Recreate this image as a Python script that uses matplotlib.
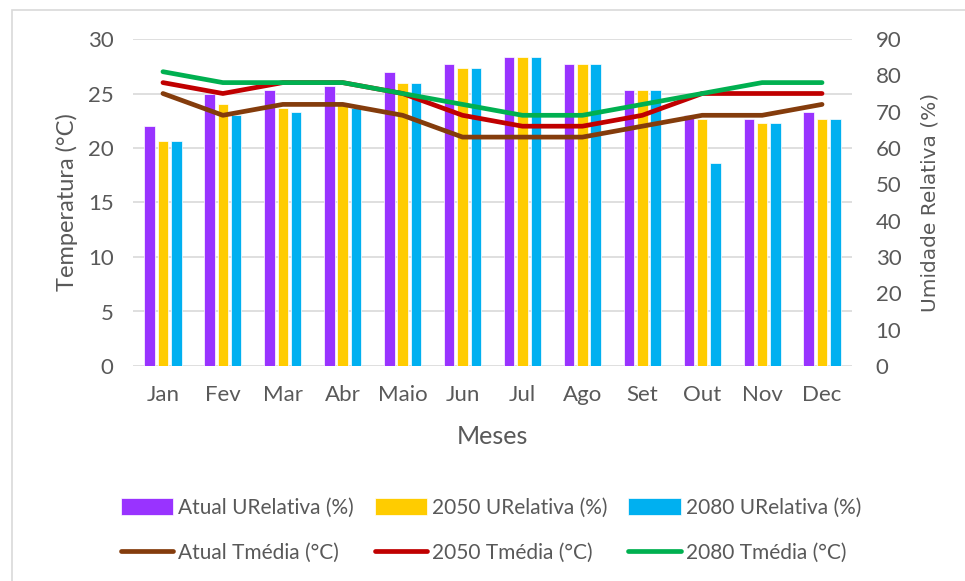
import matplotlib
matplotlib.use("Agg")
import matplotlib.pyplot as plt
import numpy as np
from matplotlib.patches import Rectangle

plt.rcParams['font.family'] = ['Lato', 'DejaVu Sans']

meses = ["Jan", "Fev", "Mar", "Abr", "Maio", "Jun", "Jul", "Ago", "Set", "Out", "Nov", "Dec"]

# Umidade relativa (%)
ur_atual = [66, 75, 76, 77, 81, 83, 85, 83, 76, 69, 68, 70]
ur_2050 = [62, 72, 71, 72, 78, 82, 85, 83, 76, 68, 67, 68]
ur_2080 = [62, 69, 70, 71, 78, 82, 85, 83, 76, 56, 67, 68]

# Temperatura média (°C)
t_atual = [25, 23, 24, 24, 23, 21, 21, 21, 22, 23, 23, 24]
t_2050 = [26, 25, 26, 26, 25, 23, 22, 22, 23, 25, 25, 25]
t_2080 = [27, 26, 26, 26, 25, 24, 23, 23, 24, 25, 26, 26]

temp_ticks = [0, 5, 10, 15, 20, 25, 30]
ur_ticks = [0, 10, 20, 30, 40, 50, 60, 70, 80, 90]

C_TXT = "#595959"
C_GRID = "#D9D9D9"
bar_colors = ["#9933FF", "#FFCC00", "#00B0F0"]
line_colors = ["#843C0C", "#C00000", "#00B050"]

fig = plt.figure(figsize=(9.65, 5.81), dpi=100)
fig.patches.append(Rectangle((12 / 965, -0.1), 1.2, 1 - 10 / 581 + 0.1, transform=fig.transFigure,
                             fill=False, edgecolor=C_GRID, linewidth=1.2))

ax = fig.add_axes([133 / 965, 1 - 366 / 581, (852 - 133) / 965, (366 - 39) / 581])
ax2 = ax.twinx()
ax.set_zorder(ax2.get_zorder() + 1)
ax.patch.set_visible(False)

x = np.arange(len(meses))
w = 0.175
off = 0.222

ax2.set_ylim(0, 90)
for yv in temp_ticks:
    ax2.axhline(yv * 3, color=C_GRID, linewidth=1.2, zorder=0)

bar_handles = []
for i, (vals, c, lab) in enumerate(zip([ur_atual, ur_2050, ur_2080], bar_colors,
                                       ["Atual URelativa (%)", "2050 URelativa (%)", "2080 URelativa (%)"])):
    b = ax2.bar(x + (i - 1) * off, vals, width=w, color=c, edgecolor="white", linewidth=0.5,
                zorder=2, label=lab)
    bar_handles.append(b)

line_handles = []
for vals, c, lab in zip([t_atual, t_2050, t_2080], line_colors,
                        ["Atual Tmédia (°C)", "2050 Tmédia (°C)", "2080 Tmédia (°C)"]):
    l, = ax.plot(x, vals, color=c, linewidth=3.4, solid_capstyle="round",
                 solid_joinstyle="round", label=lab)
    line_handles.append(l)

ax.set_xlim(-0.5, len(meses) - 0.5)
ax.set_ylim(0, 30)
ax.set_yticks(temp_ticks)
ax2.set_yticks(ur_ticks)
ax.set_xticks(x)
ax.set_xticklabels(meses)

for a in (ax, ax2):
    for s in a.spines.values():
        s.set_visible(False)
    a.tick_params(length=0, labelsize=16, labelcolor=C_TXT)
ax.tick_params(axis="y", pad=14)
ax2.tick_params(axis="y", pad=17)
ax.tick_params(axis="x", pad=14)

ax.set_ylabel("Temperatura (°C)", fontsize=17, color=C_TXT, labelpad=7)
ax2.set_ylabel("Umidade Relativa (%)", fontsize=14.5, color=C_TXT, labelpad=14,
               family=["DejaVu Sans"])
ax.set_xlabel("Meses", fontsize=18, color=C_TXT, labelpad=14)

handles = []
for b, l in zip(bar_handles, line_handles):
    handles += [b, l]
leg = fig.legend(handles, [h.get_label() for h in handles], ncol=3, loc="center",
                 bbox_to_anchor=(491 / 965, 1 - 530 / 581), frameon=False, fontsize=15,
                 handlelength=2.5, handleheight=0.9, handletextpad=0.25, columnspacing=1.0,
                 labelspacing=1.2, labelcolor=C_TXT)

fig.savefig("out.png", dpi=100)
